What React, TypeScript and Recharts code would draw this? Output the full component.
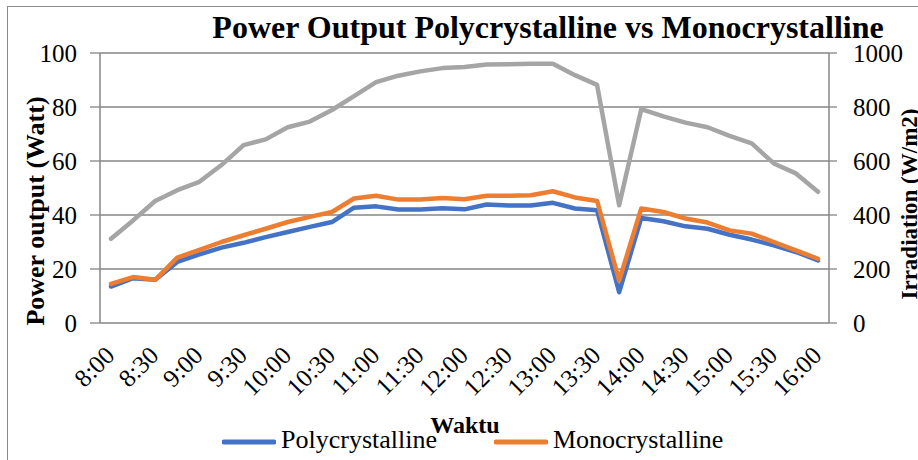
import React from 'react';
import { LineChart, Line, XAxis, YAxis, CartesianGrid, Legend } from 'recharts';

const times = [
  '8:00', '8:15', '8:30', '8:45', '9:00', '9:15', '9:30', '9:45', '10:00', '10:15', '10:30',
  '10:45', '11:00', '11:15', '11:30', '11:45', '12:00', '12:15', '12:30', '12:45', '13:00',
  '13:15', '13:30', '13:45', '14:00', '14:15', '14:30', '14:45', '15:00', '15:15', '15:30',
  '15:45', '16:00',
];
const poly = [
  13.5, 16.6, 16.0, 22.6, 25.4, 27.9, 29.7, 31.8, 33.7, 35.6, 37.4,
  42.7, 43.2, 42.0, 42.0, 42.5, 42.1, 43.9, 43.5, 43.5, 44.5,
  42.4, 41.8, 11.4, 38.9, 37.7, 35.8, 34.9, 32.7, 30.9, 28.8,
  26.3, 23.2,
];
const mono = [
  14.5, 17.0, 16.0, 24.2, 27.1, 30.0, 32.5, 34.9, 37.4, 39.3, 41.1,
  46.1, 47.1, 45.7, 45.7, 46.3, 45.8, 47.1, 47.1, 47.3, 48.8,
  46.5, 45.2, 15.7, 42.4, 41.1, 38.7, 37.2, 34.3, 33.1, 30.0,
  26.9, 23.8,
];
const irradiation = [
  312, 380, 452, 492, 523, 585, 659, 680, 725, 746, 789,
  840, 892, 916, 932, 944, 948, 957, 958, 960, 960,
  918, 882, 436, 792, 765, 742, 725, 693, 665, 591,
  554, 486,
];
const powerTicks = [0, 20, 40, 60, 80, 100];
const irrTicks = [0, 200, 400, 600, 800, 1000];
const boundaryTicks = times.map((_, i) => i).concat([times.length]);

const data = times.map((t, i) => ({ time: t, poly: poly[i], mono: mono[i], irr: irradiation[i] }));

const SERIF = '"Liberation Serif", "Times New Roman", serif';
const AXIS = '#868686';
const BLUE = '#4472C4';
const ORANGE = '#ED7D31';
const GRAY = '#A5A5A5';

const XTick = (props: any) => {
  const { x, y, payload } = props;
  const px = x + 5;
  const py = y + 26;
  return (
    <text x={px} y={py} transform={`rotate(-45, ${px}, ${py})`} textAnchor="end"
      fontSize={25} fontFamily={SERIF} fill="#000">
      {payload.value}
    </text>
  );
};

const LegendContent = () => {
  const items = [
    { name: 'Polycrystalline', color: BLUE },
    { name: 'Monocrystalline', color: ORANGE },
  ];
  return (
    <div style={{ display: 'flex', alignItems: 'center', marginLeft: 222, height: 30 }}>
      {items.map((it, i) => (
        <div key={it.name} style={{ display: 'flex', alignItems: 'center', marginLeft: i === 0 ? 0 : 57 }}>
          <svg width={54} height={30} style={{ display: 'block' }}>
            <line x1={2} y1={17} x2={52} y2={17} stroke={it.color} strokeWidth={5} strokeLinecap="round" />
          </svg>
          <span style={{ fontFamily: SERIF, fontSize: 26, lineHeight: '30px', color: '#000', marginLeft: 5 }}>{it.name}</span>
        </div>
      ))}
    </div>
  );
};

export default function App() {
  return (
    <div style={{ position: 'absolute', left: 0, top: 0, width: 918, height: 460, overflow: 'hidden', background: '#fff' }}>
      <div style={{ position: 'absolute', left: 7, top: 6, width: 940, height: 480, border: '1px solid #8a8a8a' }} />
      <LineChart width={918} height={460} data={data} margin={{ top: 53, right: 0, bottom: 0, left: 0 }}>
        <CartesianGrid vertical={false} stroke={AXIS} strokeWidth={1.3} xAxisId="cat" yAxisId="left" />
        <XAxis xAxisId="bnd" type="number" domain={[0, times.length]} ticks={boundaryTicks}
          allowDataOverflow height={0} tick={false} tickSize={7}
          tickLine={{ stroke: AXIS, strokeWidth: 1.3 }} axisLine={{ stroke: AXIS, strokeWidth: 1.5 }} />
        <XAxis xAxisId="cat" dataKey="time" interval={1} height={137} tickLine={false} axisLine={false}
          padding={{ left: 11, right: 11 }} tick={<XTick />} />
        <YAxis yAxisId="left" domain={[0, 100]} ticks={powerTicks} width={100} tickSize={10} tickMargin={13}
          tickLine={{ stroke: AXIS, strokeWidth: 1.3 }} axisLine={{ stroke: AXIS, strokeWidth: 1.5 }}
          tick={{ fontSize: 25, fill: '#000', fontFamily: SERIF }} />
        <YAxis yAxisId="right" orientation="right" domain={[0, 1000]} ticks={irrTicks} width={89} tickSize={8}
          tickMargin={16} tickLine={{ stroke: AXIS, strokeWidth: 1.3 }} axisLine={{ stroke: AXIS, strokeWidth: 1.5 }}
          tick={{ fontSize: 25, fill: '#000', fontFamily: SERIF }} />
        <Legend layout="horizontal" verticalAlign="middle" align="center" content={<LegendContent />}
          wrapperStyle={{ position: 'absolute', top: 425, left: 0, width: 918, height: 30 }} />
        <Line xAxisId="cat" yAxisId="left" type="linear" dataKey="poly" name="Polycrystalline" stroke={BLUE}
          strokeWidth={4.5} dot={false} strokeLinejoin="round" strokeLinecap="round" isAnimationActive={false} />
        <Line xAxisId="cat" yAxisId="left" type="linear" dataKey="mono" name="Monocrystalline" stroke={ORANGE}
          strokeWidth={4.5} dot={false} strokeLinejoin="round" strokeLinecap="round" isAnimationActive={false} />
        <Line xAxisId="cat" yAxisId="right" type="linear" dataKey="irr" name="Irradiation" legendType="none"
          stroke={GRAY} strokeWidth={4.5} dot={false} strokeLinejoin="round" strokeLinecap="round"
          isAnimationActive={false} />
      </LineChart>
      <svg width={918} height={460} style={{ position: 'absolute', left: 0, top: 0, pointerEvents: 'none' }}>
        <text x={548} y={38} textAnchor="middle" fontFamily={SERIF} fontWeight="bold" fontSize={32} fill="#000">
          Power Output Polycrystalline vs Monocrystalline
        </text>
        <text x={35} y={211} transform="rotate(-90, 35, 211)" textAnchor="middle" dominantBaseline="central"
          fontFamily={SERIF} fontWeight="bold" fontSize={26} fill="#000">
          Power output (Watt)
        </text>
        <text x={909} y={204} transform="rotate(-90, 909, 204)" textAnchor="middle" dominantBaseline="central"
          fontFamily={SERIF} fontWeight="bold" fontSize={23} fill="#000">
          Irradiation  (W/m2)
        </text>
        <text x={465} y={433} textAnchor="middle" fontFamily={SERIF} fontWeight="bold" fontSize={24} fill="#000">
          Waktu
        </text>
      </svg>
    </div>
  );
}
